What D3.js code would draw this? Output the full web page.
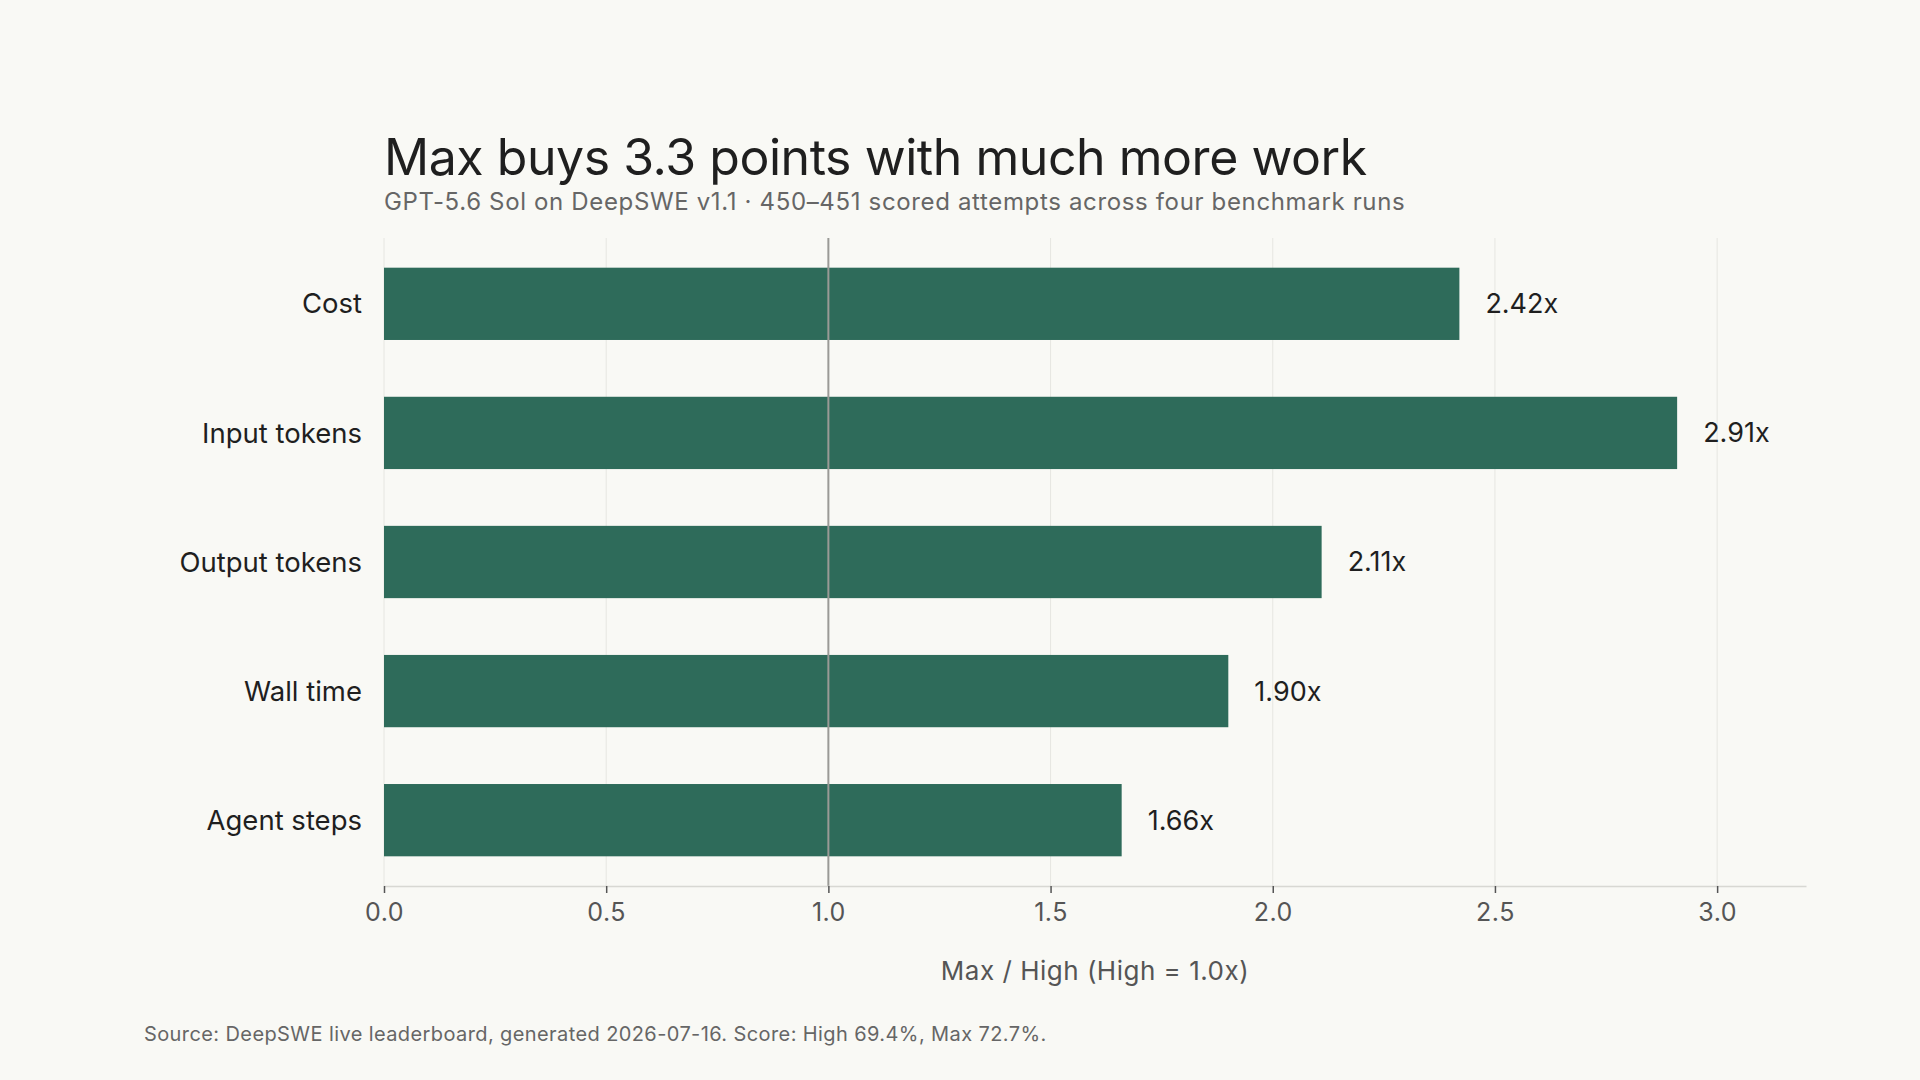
<!DOCTYPE html>
<html>
    <head>
        <meta charset="utf-8"/>
        <script src="https://cdnjs.cloudflare.com/ajax/libs/d3/7.8.5/d3.min.js"></script>
        <style>
            body { margin: 0; background: #f9f9f5; }
            text { font-family: Inter, "Noto Sans", sans-serif; }
        </style>
    </head>
    <body>
        <script>
            const categories = ["Cost", "Input tokens", "Output tokens", "Wall time", "Agent steps"];
            const ratios = [2.42, 2.91, 2.11, 1.90, 1.66];
            const xTicks = [0, 0.5, 1.0, 1.5, 2.0, 2.5, 3.0];

            const title = "Max buys 3.3 points with much more work";
            const subtitle = "GPT-5.6 Sol on DeepSWE v1.1 · 450–451 scored attempts across four benchmark runs";
            const xLabel = "Max / High (High = 1.0x)";
            const source = "Source: DeepSWE live leaderboard, generated 2026-07-16. Score: High 69.4%, Max 72.7%.";

            const width = 1920, height = 1080;
            const margin = {top: 238, right: 114, bottom: 194, left: 384};

            const data = categories.map((c, i) => ({name: c, value: ratios[i]}));

            const svg = d3.select("body").append("svg")
                .attr("width", width)
                .attr("height", height)
                .attr("viewBox", [0, 0, width, height]);

            svg.append("rect").attr("width", width).attr("height", height).attr("fill", "#f9f9f5");

            const x = d3.scaleLinear()
                .domain([0, 3.2])
                .range([margin.left, width - margin.right]);

            const y = d3.scaleBand()
                .domain(categories)
                .range([margin.top, height - margin.bottom])
                .paddingInner(0.44)
                .paddingOuter(0.23);

            // grid
            svg.append("g")
                .selectAll("line")
                .data(xTicks)
                .join("line")
                .attr("x1", d => x(d)).attr("x2", d => x(d))
                .attr("y1", margin.top).attr("y2", height - margin.bottom)
                .attr("stroke", "#e6e6e1")
                .attr("stroke-width", 1);

            // bars
            svg.append("g")
                .selectAll("rect")
                .data(data)
                .join("rect")
                .attr("x", x(0))
                .attr("y", d => y(d.name))
                .attr("width", d => x(d.value) - x(0))
                .attr("height", y.bandwidth())
                .attr("fill", "#2e6b5a");

            // reference line at 1.0x
            svg.append("line")
                .attr("x1", x(1)).attr("x2", x(1))
                .attr("y1", margin.top).attr("y2", height - margin.bottom)
                .attr("stroke", "#9a9a96")
                .attr("stroke-width", 2);

            // value labels
            svg.append("g")
                .selectAll("text")
                .data(data)
                .join("text")
                .attr("x", d => x(d.value) + 26)
                .attr("y", d => y(d.name) + y.bandwidth() / 2)
                .attr("dy", "0.35em")
                .attr("font-size", 27)
                .attr("fill", "#1f1f1f")
                .text(d => d.value.toFixed(2) + "x");

            // category labels
            svg.append("g")
                .selectAll("text")
                .data(data)
                .join("text")
                .attr("x", margin.left - 22)
                .attr("y", d => y(d.name) + y.bandwidth() / 2)
                .attr("dy", "0.35em")
                .attr("text-anchor", "end")
                .attr("font-size", 27.5)
                .attr("fill", "#1f1f1f")
                .text(d => d.name);

            // x axis
            const xAxis = svg.append("g")
                .attr("transform", `translate(0,${height - margin.bottom})`)
                .call(d3.axisBottom(x).tickValues(xTicks).tickFormat(d3.format(".1f")).tickSize(7).tickSizeOuter(0).tickPadding(10));
            xAxis.select(".domain").attr("stroke", "#d8d8d3").attr("stroke-width", 1.5);
            xAxis.selectAll(".tick line").attr("stroke", "#555").attr("stroke-width", 1.5);
            xAxis.selectAll(".tick text")
                .attr("font-size", 25)
                .attr("font-family", "Inter, sans-serif")
                .attr("letter-spacing", "0.5")
                .attr("fill", "#555");

            svg.append("text")
                .attr("x", (x.range()[0] + x.range()[1]) / 2)
                .attr("y", 980)
                .attr("text-anchor", "middle")
                .attr("font-size", 26)
                .attr("letter-spacing", "0.5")
                .attr("fill", "#555")
                .text(xLabel);

            // titles
            svg.append("text")
                .attr("x", margin.left)
                .attr("y", 175)
                .attr("font-size", 50)
                .attr("letter-spacing", "-0.45")
                .attr("fill", "#1f1f1f")
                .text(title);

            svg.append("text")
                .attr("x", margin.left)
                .attr("y", 210)
                .attr("font-size", 24)
                .attr("letter-spacing", "0.65")
                .attr("fill", "#666")
                .text(subtitle);

            svg.append("text")
                .attr("x", 144)
                .attr("y", 1041)
                .attr("font-size", 20)
                .attr("letter-spacing", "0.4")
                .attr("fill", "#666")
                .text(source);
        </script>
    </body>
</html>
